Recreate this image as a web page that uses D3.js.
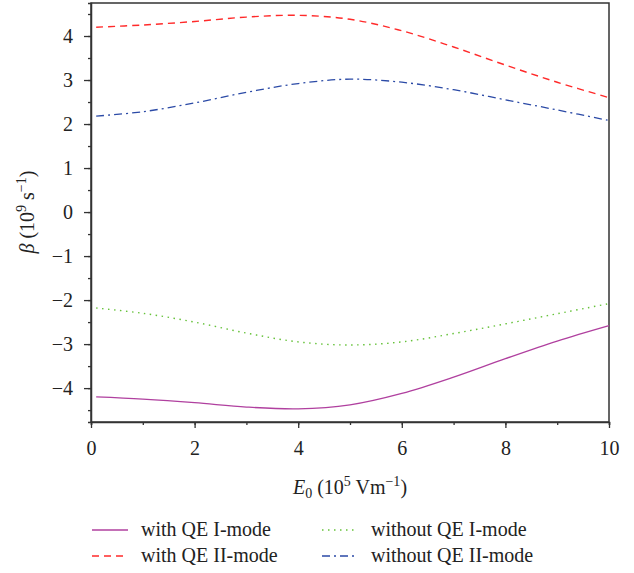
<!DOCTYPE html>
<html>
<head>
<meta charset="utf-8">
<script src="https://cdn.jsdelivr.net/npm/d3@7"></script>
<style>
  body { margin: 0; background: #fff; }
  svg text { font-family: "Liberation Serif", "DejaVu Serif", serif; fill: #222; }
</style>
</head>
<body>
<div id="chart"></div>
<script>
// E0 values (10^5 V/m)
var e0 = [0.1, 1, 2, 3, 4, 5, 6, 7, 8, 9, 10];

// beta values (10^9 1/s)
var withQE1 = [-4.2, -4.25, -4.33, -4.43, -4.47, -4.38, -4.12, -3.75, -3.33, -2.93, -2.58];
var withQE2 = [4.2, 4.25, 4.33, 4.43, 4.47, 4.38, 4.12, 3.75, 3.34, 2.95, 2.6];
var withoutQE1 = [-2.18, -2.3, -2.5, -2.75, -2.95, -3.02, -2.95, -2.76, -2.54, -2.31, -2.08];
var withoutQE2 = [2.18, 2.28, 2.48, 2.72, 2.92, 3.02, 2.95, 2.78, 2.55, 2.32, 2.08];

var xTicks = [0, 2, 4, 6, 8, 10];
var yTicks = [-4, -3, -2, -1, 0, 1, 2, 3, 4];

var series = [
    { name: "with QE I-mode", values: withQE1, color: "#b0409f", dash: null, width: 1.3 },
    { name: "with QE II-mode", values: withQE2, color: "#ff2a2a", dash: "7,5", width: 1.4 },
    { name: "without QE I-mode", values: withoutQE1, color: "#66c23a", dash: "1.5,4.5", width: 1.4 },
    { name: "without QE II-mode", values: withoutQE2, color: "#2b4aa6", dash: "8,4,2,4", width: 1.3 }
];

var width = 634;
var height = 573;
var margin = { left: 91, right: 25, top: 3, bottom: 151 };
var fontSize = 20;

var svg = d3.select("#chart")
    .append("svg")
    .attr("width", width)
    .attr("height", height);

var x = d3.scaleLinear().domain([0, 10]).range([margin.left, width - margin.right]);
var y = d3.scaleLinear().domain([-4.77, 4.75]).range([height - margin.bottom, margin.top]);

var plotBottom = height - margin.bottom;

// frame
svg.append("rect")
    .attr("x", margin.left)
    .attr("y", margin.top)
    .attr("width", width - margin.right - margin.left)
    .attr("height", plotBottom - margin.top)
    .attr("fill", "none")
    .attr("stroke", "#333")
    .attr("stroke-width", 1.5);

// x axis (major + minor)
var xAxis = svg.append("g").attr("transform", "translate(0," + plotBottom + ")");
xAxis.call(d3.axisBottom(x).tickValues(d3.range(0, 10.01, 1)).tickSize(3).tickFormat(""));
xAxis.call(function (g) {
    g.selectAll(".tick line").attr("stroke", "#333").attr("stroke-width", 1.3);
    g.select(".domain").attr("stroke", "#333").attr("stroke-width", 1.5);
});
var xMajor = svg.append("g").attr("transform", "translate(0," + plotBottom + ")")
    .call(d3.axisBottom(x).tickValues(xTicks).tickSize(6).tickPadding(13));
xMajor.select(".domain").remove();
xMajor.selectAll(".tick line").attr("stroke", "#333").attr("stroke-width", 1.3);
xMajor.selectAll(".tick text").attr("font-size", fontSize);

// y axis (major + minor)
var yAxis = svg.append("g").attr("transform", "translate(" + margin.left + ",0)");
yAxis.call(d3.axisLeft(y).tickValues(d3.range(-4.5, 4.51, 0.5)).tickSize(3).tickFormat(""));
yAxis.call(function (g) {
    g.selectAll(".tick line").attr("stroke", "#333").attr("stroke-width", 1.3);
    g.select(".domain").attr("stroke", "#333").attr("stroke-width", 1.5);
});
var yMajor = svg.append("g").attr("transform", "translate(" + margin.left + ",0)")
    .call(d3.axisLeft(y).tickValues(yTicks).tickSize(7).tickPadding(11)
        .tickFormat(function (d) { return d < 0 ? "\u2212" + Math.abs(d) : d; }));
yMajor.select(".domain").remove();
yMajor.selectAll(".tick line").attr("stroke", "#333").attr("stroke-width", 1.3);
yMajor.selectAll(".tick text").attr("font-size", fontSize);

// curves
var line = d3.line()
    .x(function (d) { return x(d[0]); })
    .y(function (d) { return y(d[1]); })
    .curve(d3.curveCatmullRom);

series.forEach(function (s) {
    svg.append("path")
        .datum(e0.map(function (v, i) { return [v, s.values[i]]; }))
        .attr("d", line)
        .attr("fill", "none")
        .attr("stroke", s.color)
        .attr("stroke-width", s.width)
        .attr("stroke-dasharray", s.dash);
});

// axis labels
var xl = svg.append("text")
    .attr("x", 350)
    .attr("y", 494)
    .attr("text-anchor", "middle")
    .attr("font-size", fontSize);
xl.append("tspan").attr("font-style", "italic").text("E");
xl.append("tspan").attr("font-size", 14).attr("dy", 4).text("0");
xl.append("tspan").attr("dy", -4).text(" (10");
xl.append("tspan").attr("font-size", 14).attr("dy", -8).text("5");
xl.append("tspan").attr("dy", 8).text(" Vm");
xl.append("tspan").attr("font-size", 14).attr("dy", -8).text("\u22121");
xl.append("tspan").attr("dy", 8).text(")");

var yl = svg.append("text")
    .attr("transform", "translate(34," + y(0) + ") rotate(-90)")
    .attr("text-anchor", "middle")
    .attr("font-size", fontSize);
yl.append("tspan").attr("font-style", "italic").text("\u03b2");
yl.append("tspan").text(" (10");
yl.append("tspan").attr("font-size", 14).attr("dy", -8).text("9");
yl.append("tspan").attr("dy", 8).text(" s");
yl.append("tspan").attr("font-size", 14).attr("dy", -8).text("\u22121");
yl.append("tspan").attr("dy", 8).text(")");

// legend
var legendPos = [[92, 530], [92, 556], [322, 530], [322, 556]];
series.forEach(function (s, i) {
    var p = legendPos[i];
    svg.append("line")
        .attr("x1", p[0]).attr("x2", p[0] + 36)
        .attr("y1", p[1]).attr("y2", p[1])
        .attr("stroke", s.color)
        .attr("stroke-width", s.width)
        .attr("stroke-dasharray", s.dash);
    svg.append("text")
        .attr("x", p[0] + 49)
        .attr("y", p[1] + 6)
        .attr("font-size", fontSize)
        .text(s.name);
});
</script>
</body>
</html>
